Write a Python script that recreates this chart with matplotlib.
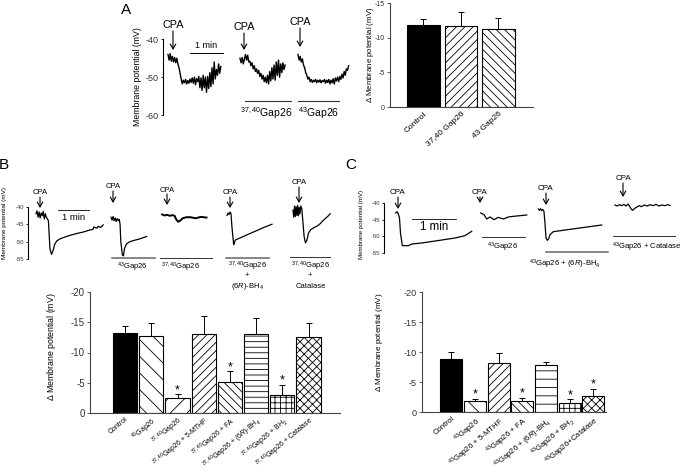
import numpy as np
import matplotlib
matplotlib.use("Agg")
import matplotlib.pyplot as plt
from matplotlib.lines import Line2D
from matplotlib.patches import FancyArrowPatch

plt.rcParams["font.family"] = ["Liberation Sans", "DejaVu Sans"]
plt.rcParams["mathtext.fontset"] = "custom"
plt.rcParams["mathtext.rm"] = "Liberation Sans"
plt.rcParams["mathtext.it"] = "Liberation Sans:italic"
plt.rcParams["mathtext.bf"] = "Liberation Sans:bold"
plt.rcParams["hatch.linewidth"] = 0.6

W, H = 682, 472

# ---------------- Panel A: traces (time in s, potential in mV)
a1_t = np.arange(0, 98, 2)
a1_v = [-44.0, -45.5, -43.8, -45.8, -44.5, -46.0, -44.8, -46.2, -45.0, -46.5,
        -47.5, -49.0, -50.5, -51.8, -50.8, -51.5, -50.6, -51.8, -50.9, -51.6,
        -50.5, -51.4, -50.2, -51.6, -50.0, -52.0, -50.4, -51.2, -49.8, -52.8,
        -50.2, -53.5, -49.5, -52.8, -50.0, -54.0, -49.8, -53.0, -48.8, -52.5,
        -47.5, -51.8, -46.0, -50.5, -48.0, -49.5, -46.5, -49.0, -47.2]
a2_t = np.arange(0, 84, 2)
a2_v = [-45.0, -46.2, -44.8, -46.5, -45.2, -44.0, -45.5, -44.2, -46.0, -45.8,
        -47.0, -46.2, -47.8, -47.0, -48.5, -47.8, -49.0, -48.2, -49.8, -49.0,
        -50.5, -49.5, -51.2, -50.0, -51.5, -49.5, -51.8, -48.5, -51.0, -47.5,
        -50.5, -46.8, -50.8, -46.0, -49.5, -45.5, -50.0, -46.5, -48.8, -46.2,
        -48.0, -46.8]
a3_t = np.arange(0, 94, 2)
a3_v = [-44.0, -45.5, -44.5, -46.0, -45.2, -46.8, -47.5, -48.8, -49.5, -50.5,
        -50.0, -51.2, -50.6, -51.4, -50.8, -51.2, -50.6, -51.5, -50.8, -51.3,
        -50.7, -51.5, -50.9, -51.2, -50.6, -51.6, -50.8, -51.4, -50.6, -51.8,
        -50.8, -51.5, -50.4, -51.8, -50.2, -51.0, -50.0, -51.2, -49.8, -50.6,
        -49.2, -50.2, -48.5, -49.5, -47.8, -48.2, -47.0]

# Panel A: bars
a_bar_labels = ["Control", "37,40 Gap26", "43 Gap26"]
a_bar_vals = [-11.8, -11.7, -11.3]
a_bar_errs = [0.9, 2.0, 1.5]

# ---------------- Panel B: traces
b1_t = [0, 2, 4, 6, 8, 10, 12, 14, 16, 18, 20, 24, 27, 30, 33, 36, 40, 46, 53,
        65, 80, 92, 105, 110, 112, 115, 118, 120, 125, 130]
b1_v = [-42.0, -41.2, -43.0, -41.5, -43.2, -41.8, -42.6, -41.3, -43.5, -42.0,
        -43.0, -44.0, -52.0, -53.6, -52.5, -50.8, -49.8, -49.2, -48.8,
        -48.2, -47.6, -47.2, -46.6, -46.5, -45.8, -46.0, -46.1, -45.6, -45.9, -45.2]
b2_t = [0, 2, 4, 6, 8, 10, 12, 14, 16, 17.5, 19, 22, 24, 26, 30, 36, 45, 55, 69]
b2_v = [-43.0, -43.8, -42.8, -44.0, -43.2, -44.2, -43.4, -44.0, -43.6, -45.0,
        -50.0, -53.8, -54.0, -52.0, -50.6, -50.0, -49.6, -49.2, -48.5]
b3_t = [0, 5, 10, 15, 20, 24.5, 27, 31, 35, 40, 47, 55, 65, 75, 86]
b3_v = [-42.2, -42.5, -42.3, -42.6, -42.4, -42.6, -43.5, -44.3, -44.0, -43.3,
        -43.0, -43.0, -43.3, -42.9, -43.1]
b4_t = [0, 2, 4, 6, 7.7, 9.7, 12.9, 14.5, 16, 30, 50, 70, 87]
b4_v = [-42.5, -41.8, -42.2, -41.5, -42.0, -46.0, -50.8, -50.2, -49.5, -48.6,
        -47.3, -46.0, -45.0]
b5_t = [0, 1.5, 3, 4.5, 6, 7.5, 9, 10.5, 12, 13.5, 15, 17, 19, 21.5, 24, 27, 30,
        34, 40, 47, 53, 58, 63, 67, 72]
b5_v = [-41.0, -43.0, -39.8, -42.8, -40.0, -42.5, -39.6, -42.6, -40.2, -42.0,
        -39.8, -40.5, -44.0, -48.5, -50.3, -49.5, -47.5, -46.6, -46.0, -45.5,
        -44.8, -44.0, -43.3, -42.8, -42.0]

# Panel B: bars
b_bar_labels = ["Control", r"$^{43}$Gap26", r"$^{37,40}$Gap26",
                r"$^{37,40}$Gap26 + 5-MTHF", r"$^{37,40}$Gap26 + FA",
                r"$^{37,40}$Gap26 + (6$R$)-BH$_4$", r"$^{37,40}$Gap26 + BH$_2$",
                r"$^{37,40}$Gap26 + Catalase"]
b_bar_vals = [-13.2, -12.8, -2.5, -13.1, -5.05, -13.1, -3.05, -12.6]
b_bar_errs = [1.2, 2.0, 0.6, 2.9, 1.85, 2.6, 1.65, 2.2]
b_stars = [2, 4, 6]

# ---------------- Panel C: traces
c1_t = [0, 1.8, 3.5, 5.2, 6.5, 9, 17.2, 22, 35.5, 60, 81, 94.5, 103.7]
c1_v = [-43.0, -42.6, -43.2, -44.5, -49.0, -52.8, -52.8, -52.3, -52.0, -51.2,
        -50.5, -49.8, -48.5]
c2_t = [0, 4.5, 8.2, 12.7, 18.2, 24, 30.9, 37.7, 44.6, 53.7, 62.8]
c2_v = [-43.0, -43.5, -44.8, -44.2, -45.0, -44.3, -44.8, -44.2, -44.0, -43.8, -43.6]
c3_t = [0, 1.5, 3, 4.5, 6, 7.7, 9.1, 10.5, 12.3, 14, 16, 20.5, 40, 60, 86.5]
c3_v = [-41.8, -42.2, -41.7, -42.3, -41.9, -42.5, -46.0, -50.5, -51.2, -50.8,
        -49.5, -48.6, -48.0, -47.4, -46.6]
c4_t = [0, 3, 6, 9, 12, 15, 18, 20, 22, 24, 27, 30, 33, 36, 40, 44, 48, 52, 56,
        60, 64, 68, 72, 75]
c4_v = [-40.6, -40.9, -40.5, -40.8, -40.4, -40.9, -40.3, -41.0, -41.8, -42.2,
        -41.6, -41.2, -40.8, -41.1, -40.6, -40.9, -40.5, -40.8, -40.4, -40.9,
        -40.6, -40.8, -40.5, -40.7]

# Panel C: bars
c_bar_labels = ["Control", r"$^{43}$Gap26", r"$^{43}$Gap26 + 5-MTHF",
                r"$^{43}$Gap26 + FA", r"$^{43}$Gap26 + (6$R$)-BH$_4$",
                r"$^{43}$Gap26 + BH$_2$", r"$^{43}$Gap26+Catalase"]
c_bar_vals = [-8.9, -1.85, -8.1, -1.8, -7.9, -1.5, -2.6]
c_bar_errs = [1.1, 0.4, 1.7, 0.6, 0.45, 0.6, 1.3]
c_stars = [1, 3, 5, 6]


fig = plt.figure(figsize=(W / 100, H / 100), dpi=100)


def axes_px(left, top, right, bottom):
    return fig.add_axes([left / W, 1 - bottom / H, (right - left) / W, (bottom - top) / H])


def fig_text(px, py, s, **kw):
    fig.text(px / W, 1 - py / H, s, **kw)


def fig_line(x0, x1, py, **kw):
    fig.add_artist(Line2D([x0 / W, x1 / W], [1 - py / H] * 2,
                          transform=fig.transFigure, **kw))


def cpa(px, ty, y0, y1, fs):
    fig_text(px, ty, "CPA", ha="center", va="center", fontsize=fs)
    fig.add_artist(FancyArrowPatch((px / W, 1 - y0 / H), (px / W, 1 - y1 / H),
                                   transform=fig.transFigure,
                                   arrowstyle="->,head_length=0.35,head_width=0.2",
                                   mutation_scale=10, lw=0.8, color="black",
                                   shrinkA=0, shrinkB=0))


def trace_axes(left, top, right, bottom, pps, ytop, ybot, yticks, tick_fs):
    ax = axes_px(left, top, right, bottom)
    ax.set_xlim(0, (right - left) / pps)
    ax.set_ylim(ybot, ytop)
    for s in ["top", "right", "bottom"]:
        ax.spines[s].set_visible(False)
    ax.spines["left"].set_linewidth(0.8)
    ax.set_xticks([])
    ax.set_yticks(yticks)
    ax.set_yticklabels([str(v) for v in yticks], fontsize=tick_fs, color="#333333")
    ax.tick_params(axis="y", length=1.5, width=0.6, pad=1.5)
    ax.patch.set_visible(False)
    return ax


def draw_trace(ax, left, pps, start_px, t, v, lw=0.9):
    ax.plot(np.asarray(t) + (start_px - left) / pps, v, color="black", lw=lw,
            clip_on=False)


def bar_axes(left, top, right, bottom, vals, errs, labels, hatches, xlim, width,
             ymax, yticks, stars, tick_fs, xlab_fs, rot=40, xpad=2.5):
    ax = axes_px(left, top, right, bottom)
    x = np.arange(len(vals))
    fills = ["black"] + ["white"] * (len(vals) - 1)
    bars = ax.bar(x, vals, width=width, color=fills, edgecolor="black",
                  linewidth=0.8, zorder=2)
    for b, h in zip(bars, hatches):
        b.set_hatch(h)
    ax.errorbar(x, vals, yerr=[errs, np.zeros(len(errs))], fmt="none",
                ecolor="black", elinewidth=0.7, capsize=2.5, capthick=0.7, zorder=3)
    for i in stars:
        ax.text(i, vals[i] - errs[i] - 0.15, "*", ha="center", va="baseline",
                fontsize=9)
    ax.set_xlim(*xlim)
    ax.set_ylim(0, ymax)
    for s in ["top", "right"]:
        ax.spines[s].set_visible(False)
    for s in ["left", "bottom"]:
        ax.spines[s].set_linewidth(0.8)
        ax.spines[s].set_color("#444444")
    ax.set_xticks(x)
    ax.set_xticklabels(labels, rotation=rot, ha="right", rotation_mode="anchor",
                       fontsize=xlab_fs)
    ax.tick_params(axis="x", length=0, pad=xpad)
    ax.set_yticks(yticks)
    ax.set_yticklabels([str(v) for v in yticks], fontsize=tick_fs, color="#333333")
    ax.tick_params(axis="y", length=2.5, width=0.6, pad=1.2, color="#444444")
    ax.patch.set_visible(False)
    return ax


# ================= Panel A
fig_text(126, 10, "A", ha="center", va="center", fontsize=11)
A_L, A_T, A_R, A_B, A_PPS = 163, 39.3, 355, 115, 0.55
axA = trace_axes(A_L, A_T, A_R, A_B, A_PPS, -40, -60, [-40, -50, -60], 6.5)
draw_trace(axA, A_L, A_PPS, 168, a1_t, a1_v, lw=1.0)
draw_trace(axA, A_L, A_PPS, 240, a2_t, a2_v, lw=1.0)
draw_trace(axA, A_L, A_PPS, 298, a3_t, a3_v, lw=1.0)
fig_text(137, 77, "Membrane potential (mV)", rotation=90, ha="center", va="center",
         fontsize=6.3)
cpa(173, 25, 31, 50, 7.8)
cpa(244, 27, 33, 50, 7.8)
cpa(300, 22, 28, 47, 7.8)
fig_line(190, 190 + 60 * A_PPS, 53, color="black", lw=0.7)
fig_text(206, 46, "1 min", ha="center", va="center", fontsize=6.5)
fig_line(245, 291, 100.7, color="#333333", lw=0.8)
fig_line(298, 339, 101, color="#333333", lw=0.8)
fig_text(266, 113, r"$^{37,40}$Gap26", ha="center", va="center", fontsize=7.5)
fig_text(318.5, 113, r"$^{43}$Gap26", ha="center", va="center", fontsize=7.5)

bar_axes(390, 3, 533, 107, a_bar_vals, a_bar_errs, a_bar_labels,
         ["", "////", "\\\\\\\\"], (-0.89, 2.92), 0.86, -15, [0, -5, -10, -15], [],
         5.0, 6.0, rot=42)
fig_text(370, 55, r"$\Delta$ Membrane potential (mV)", rotation=90, ha="center",
         va="center", fontsize=5.6)

# ================= Panel B
fig_text(4, 165, "B", ha="center", va="center", fontsize=11)
B_L, B_T, B_R, B_B, B_PPS = 28, 206.7, 335, 259.3, 0.517
axB = trace_axes(B_L, B_T, B_R, B_B, B_PPS, -40, -55, [-40, -45, -50, -55], 4.2)
draw_trace(axB, B_L, B_PPS, 36, b1_t, b1_v)
draw_trace(axB, B_L, B_PPS, 111, b2_t, b2_v)
draw_trace(axB, B_L, B_PPS, 162, b3_t, b3_v, lw=1.4)
draw_trace(axB, B_L, B_PPS, 227, b4_t, b4_v)
draw_trace(axB, B_L, B_PPS, 293, b5_t, b5_v)
fig_text(5, 223, "Membrane potential (mV)", rotation=90, ha="center", va="center",
         fontsize=4.6)
cpa(40, 193, 197, 208, 5.5)
cpa(113, 187, 191, 203, 5.5)
cpa(167, 191, 194, 205, 5.5)
cpa(230, 193, 197, 208, 5.5)
cpa(299, 183, 187, 203, 5.5)
fig_line(58, 58 + 60 * B_PPS, 210, color="black", lw=0.6)
fig_text(73.5, 217, "1 min", ha="center", va="center", fontsize=6.8)
fig_line(112, 155, 258.3, color="#666666", lw=1.1)
fig_line(160, 212, 258.3, color="#333333", lw=0.7)
fig_line(226, 269, 258.3, color="#666666", lw=1.1)
fig_line(290, 330, 256.7, color="#333333", lw=0.7)
fig_text(132, 267, r"$^{43}$Gap26", ha="center", va="center", fontsize=5.5)
fig_text(181, 267, r"$^{37,40}$Gap26", ha="center", va="center", fontsize=5.5)
fig_text(248, 266, r"$^{37,40}$Gap26", ha="center", va="center", fontsize=5.5)
fig_text(247, 275, "+", ha="center", va="center", fontsize=5.5)
fig_text(247, 286, r"(6$R$)-BH$_4$", ha="center", va="center", fontsize=5.5)
fig_text(311, 266, r"$^{37,40}$Gap26", ha="center", va="center", fontsize=5.5)
fig_text(310, 275, "+", ha="center", va="center", fontsize=5.5)
fig_text(311, 286, "Catalase", ha="center", va="center", fontsize=5.5)

bar_axes(90, 292, 340, 413, b_bar_vals, b_bar_errs, b_bar_labels,
         ["", "\\\\", "//", "////", "\\\\\\\\", "---", "+++", "xxxx"],
         (-1.34, 8.2), 0.92, -20, [0, -5, -10, -15, -20], b_stars, 7, 5.0,
         rot=40, xpad=1.5)
fig_text(52, 347, r"$\Delta$ Membrane potential (mV)", rotation=90, ha="center",
         va="center", fontsize=6.3)

# ================= Panel C
fig_text(351, 165, "C", ha="center", va="center", fontsize=11)
C_L, C_T, C_R, C_B, C_PPS = 384, 203, 680, 253, 0.733
axC = trace_axes(C_L, C_T, C_R, C_B, C_PPS, -40, -55, [-40, -45, -50, -55], 4.2)
draw_trace(axC, C_L, C_PPS, 395.7, c1_t, c1_v)
draw_trace(axC, C_L, C_PPS, 480.7, c2_t, c2_v)
draw_trace(axC, C_L, C_PPS, 538.3, c3_t, c3_v)
draw_trace(axC, C_L, C_PPS, 615, c4_t, c4_v)
fig_text(362, 224, "Membrane potential (mV)", rotation=90, ha="center", va="center",
         fontsize=4.4)
cpa(398, 193, 197, 209, 5.8)
cpa(480, 193, 197, 203, 5.8)
cpa(546, 189, 193, 205, 5.8)
cpa(623, 179, 183, 197, 5.8)
fig_line(412, 412 + 60 * C_PPS, 219, color="black", lw=0.6)
fig_text(434, 227, "1 min", ha="center", va="center", fontsize=8.3)
fig_line(482, 525, 237, color="#333333", lw=0.7)
fig_line(546, 608, 252, color="#666666", lw=1.1)
fig_line(613, 675, 236, color="#333333", lw=0.7)
fig_text(503, 247, r"$^{43}$Gap26", ha="center", va="center", fontsize=5.6)
fig_text(565, 264, r"$^{43}$Gap26 + (6$R$)-BH$_4$", ha="center", va="center",
         fontsize=5.6)
fig_text(647, 247, r"$^{43}$Gap26 + Catalase", ha="center", va="center",
         fontsize=5.5)

bar_axes(422, 292, 606, 412, c_bar_vals, c_bar_errs, c_bar_labels,
         ["", "\\\\", "////", "\\\\\\\\", "--", "+++", "xxxx"],
         (-1.23, 6.53), 0.93, -20, [0, -5, -10, -15, -20], c_stars, 6.6, 5.6)
fig_text(380, 342, r"$\Delta$ Membrane potential (mV)", rotation=90, ha="center",
         va="center", fontsize=5.8)

fig.savefig("out.png", dpi=100)
